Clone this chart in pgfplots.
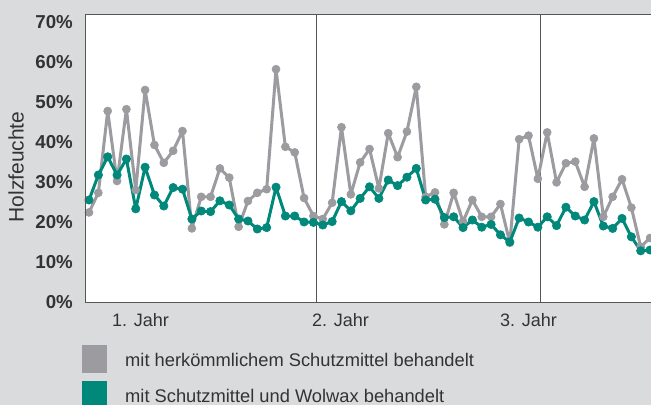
\documentclass[border=0pt]{standalone}
\usepackage{pgfplots}
\pgfplotsset{compat=1.18}
\usepackage{fontspec}
\setmainfont{Liberation Sans}
\definecolor{bgc}{HTML}{DADBDD}
\definecolor{grs}{HTML}{9C9BA0}
\definecolor{grn}{HTML}{00897B}
\definecolor{txt}{HTML}{333333}
\definecolor{axc}{HTML}{555555}
\begin{document}
\begin{tikzpicture}
\fill[bgc] (0,0) rectangle (651pt,405pt);
\begin{axis}[
  name=ax,
  at={(85pt,103pt)}, anchor=south west,
  scale only axis, width=566pt, height=288pt,
  xmin=0.572, xmax=61.1, ymin=0, ymax=72,
  axis line style={draw=none},
  axis background/.style={fill=white},
  xtick=\empty,
  ytick={0,10,...,70},
  major tick length=0pt,
  yticklabel={\pgfmathprintnumber{\tick}\%},
  /pgf/number format/assume math mode=true,
  yticklabel style={font=\bfseries\fontsize{18.7}{20}\selectfont, text=txt, anchor=east, inner sep=0pt, xshift=-12pt},
  clip=true,
]
\draw[axc, line width=1pt] (axis cs:25.28,0) -- (axis cs:25.28,72);
\draw[axc, line width=1pt] (axis cs:49.24,0) -- (axis cs:49.24,72);
\addplot[grs, line width=3pt, line join=round, mark=*, mark size=4pt, mark options={solid, fill=grs, draw=grs, line width=0.6pt}] coordinates {
(1,22.4)(2,27.3)(3,47.75)(4,30.25)(5,48.2)(6,28)(7,53)(8,39.25)(9,34.8)(10,37.8)
(11,42.75)(12,18.4)(13,26.3)(14,26.3)(15,33.4)(16,31.1)(17,18.8)(18,25.25)(19,27.3)(20,28.2)
(21,58.2)(22,38.8)(23,37.4)(24,26)(25,21.5)(26,20.75)(27,24.8)(28,43.7)(29,26.9)(30,34.9)
(31,38.25)(32,28.4)(33,42.2)(34,36.2)(35,42.6)(36,53.8)(37,26.3)(38,27.4)(39,19.4)(40,27.3)
(41,20.1)(42,25.5)(43,21.3)(44,21.3)(45,24.5)(46,14.8)(47,40.7)(48,41.6)(49,30.8)(50,42.4)
(51,29.9)(52,34.7)(53,35.1)(54,28.8)(55,40.9)(56,21.3)(57,26.3)(58,30.7)(59,23.6)(60,13.8)
(61,16.0)};
\addplot[grn, line width=3pt, line join=round, mark=*, mark size=4.2pt, mark options={solid, fill=grn, draw=grn, line width=0.6pt}] coordinates {
(1,25.5)(2,31.75)(3,36.3)(4,31.75)(5,35.75)(6,23.3)(7,33.7)(8,26.75)(9,24)(10,28.6)
(11,28.2)(12,20.75)(13,22.75)(14,22.6)(15,25.3)(16,24.25)(17,20.75)(18,20.25)(19,18.25)(20,18.6)
(21,28.7)(22,21.5)(23,21.5)(24,20)(25,19.9)(26,19.25)(27,20.1)(28,25.1)(29,22.8)(30,25.9)
(31,28.8)(32,25.9)(33,30.5)(34,29.1)(35,31.2)(36,33.4)(37,25.5)(38,25.7)(39,21.1)(40,21.3)
(41,18.6)(42,20.5)(43,18.7)(44,19.4)(45,16.8)(46,15)(47,21)(48,20)(49,18.7)(50,21.3)
(51,19.1)(52,23.7)(53,21.5)(54,20.5)(55,25.1)(56,19)(57,18.4)(58,20.9)(59,16.3)(60,12.8)
(61,13.0)};
\end{axis}
\draw[axc, line width=1pt] (ax.north east) -- (ax.north west) -- (ax.south west) -- (ax.south east);
\node[rotate=90, text=txt, font=\fontsize{21}{24}\selectfont, inner sep=0pt] at (16pt,238pt) {Holzfeuchte};
\node[anchor=base west, inner sep=0pt, text=txt, font=\fontsize{18}{20}\selectfont] at (112pt,79pt) {1. Jahr};
\node[anchor=base west, inner sep=0pt, text=txt, font=\fontsize{18}{20}\selectfont] at (312pt,79pt) {2. Jahr};
\node[anchor=base west, inner sep=0pt, text=txt, font=\fontsize{18}{20}\selectfont] at (500pt,79pt) {3. Jahr};
\fill[grs] (82pt,32.3pt) rectangle (107pt,60pt);
\fill[grn] (82pt,0pt) rectangle (107pt,24.3pt);
\node[anchor=base west, inner sep=0pt, text=txt, font=\fontsize{18.3}{20}\selectfont] at (125pt,39pt) {mit herkömmlichem Schutzmittel behandelt};
\node[anchor=base west, inner sep=0pt, text=txt, font=\fontsize{18.3}{20}\selectfont] at (125pt,2.5pt) {mit Schutzmittel und Wolwax behandelt};
\pgfresetboundingbox
\useasboundingbox (0,0) rectangle (651pt,405pt);
\end{tikzpicture}
\end{document}
